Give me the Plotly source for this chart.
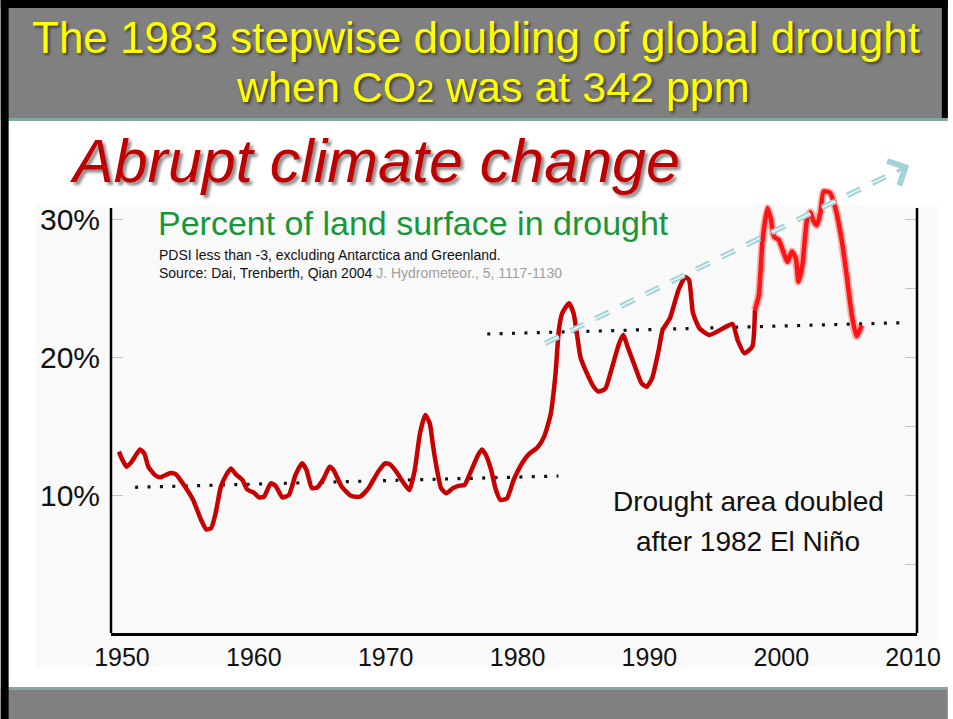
import plotly.graph_objects as go

# ---------------- data ----------------
dark_years = [1949.77, 1949.98, 1950.35, 1950.73, 1951.36, 1951.7, 1952.0, 1952.5, 1952.9, 1953.7,
              1954.1, 1954.75, 1955.4, 1956.0, 1956.4, 1956.76, 1957.1, 1957.5, 1957.9, 1958.27,
              1958.64, 1959.14, 1959.5, 1960.0, 1960.4, 1960.78, 1961.28, 1961.66, 1962.16, 1962.66,
              1963.16, 1963.66, 1964.0, 1964.4, 1964.8, 1965.3, 1965.75, 1966.05, 1966.67, 1967.4,
              1968.06, 1968.7, 1969.44, 1969.95, 1970.3, 1970.8, 1971.3, 1971.8, 1972.2, 1972.6,
              1973.0, 1973.34, 1973.6, 1973.85, 1974.2, 1974.6, 1975.1, 1975.6, 1975.97, 1976.5,
              1977.0, 1977.3, 1977.6, 1978.0, 1978.36, 1978.7, 1979.2, 1979.7, 1980.4, 1980.9,
              1981.5, 1982.0, 1982.5, 1982.88, 1983.13, 1983.38, 1983.9, 1984.25, 1984.5, 1984.77,
              1985.27, 1985.77, 1986.15, 1986.65, 1987.15, 1987.66, 1988.0, 1988.4, 1989.0, 1989.4,
              1989.8, 1990.2, 1990.7, 1991.0, 1991.55, 1991.9, 1992.2, 1992.7, 1993.0, 1993.3,
              1993.8, 1994.56, 1995.56, 1996.3, 1996.7, 1997.2, 1997.8, 1998.0]
dark_pct = [13.14, 12.66, 12.05, 12.4, 13.3, 13.0, 12.05, 11.45, 11.28, 11.6,
            11.5, 10.65, 9.64, 8.2, 7.51, 7.6, 8.67, 10.6, 11.45, 11.93,
            11.5, 11.09, 10.4, 10.17, 9.83, 9.88, 10.85, 10.65, 9.83, 10.0,
            11.45, 12.3, 11.8, 10.5, 10.55, 11.2, 12.05, 11.8, 10.6, 9.93,
            9.88, 10.5, 11.7, 12.3, 12.24, 11.7, 10.96, 10.36, 11.8, 14.47,
            15.8, 15.2, 13.5, 12.05, 10.5, 10.12, 10.5, 10.68, 10.72, 11.8,
            12.9, 13.3, 12.9, 11.8, 10.36, 9.64, 9.76, 11.09, 12.4, 13.0,
            13.45, 14.2, 15.8, 18.8, 21.96, 23.17, 23.9, 23.17, 21.7, 20.0,
            18.8, 17.85, 17.5, 17.7, 19.2, 20.87, 21.6, 20.6, 19.06, 18.1,
            17.85, 18.45, 20.5, 21.96, 22.8, 23.9, 24.85, 25.8, 25.6, 23.2,
            22.07, 21.6, 22.07, 22.4, 21.2, 20.27, 20.75, 23.4]

bright_years = [1998.0, 1998.3, 1998.57, 1998.95, 1999.2, 1999.46, 1999.8, 2000.2, 2000.46, 2000.8,
                2001.1, 2001.3, 2001.6, 2001.96, 2002.2, 2002.47, 2002.7, 2002.97, 2003.2, 2003.7,
                2004.1, 2004.6, 2004.96, 2005.35, 2005.7, 2006.1]
bright_pct = [23.4, 24.5, 28.36, 30.8, 30.05, 28.7, 28.5, 27.5, 26.9, 27.65,
              27.15, 25.46, 26.67, 30.05, 30.5, 29.8, 29.56, 30.5, 32.0, 31.9,
              30.8, 28.36, 25.9, 23.04, 21.5, 22.3]

lower_level_years = [1951.0, 1983.1]
lower_level_pct = [10.56, 11.38]
upper_level_years = [1977.7, 2009.6]
upper_level_pct = [21.67, 22.5]

trend_arrow_years = [1982.1, 2008.6]
trend_arrow_pct = [21.0, 33.4]
trend_arrow_head = (2009.7, 33.9)

x_ticks = [1950, 1960, 1970, 1980, 1990, 2000, 2010]
y_label_vals = [10, 20, 30]
y_label_text = ["10%", "20%", "30%"]
y_right_ticks = [5, 10, 15, 20, 25, 30]
frame_top_pct = 30.8

# ---------------- layout geometry ----------------
W, H = 953, 719
ML, MR, MT, MB = 111, 31, 157, 86
X_RANGE = [1949.17, 2010.29]
Y_RANGE = [0, 34.5]
PW, PH = W - ML - MR, H - MT - MB


def pxp(x):
    return (x - ML) / PW


def pyp(y):
    return (H - MB - y) / PH


SANS = "Liberation Sans, Arial, sans-serif"

fig = go.Figure()

# dotted level lines
for xs, ys in [(lower_level_years, lower_level_pct), (upper_level_years, upper_level_pct)]:
    fig.add_trace(go.Scatter(x=xs, y=ys, mode="lines",
                             line=dict(color="#111111", width=3.2, dash="3px,9.4px"),
                             hoverinfo="skip", showlegend=False))

# red drought curve
fig.add_trace(go.Scatter(x=dark_years, y=dark_pct, mode="lines",
                         line=dict(color="#c80000", width=4.5, shape="spline", smoothing=0.5),
                         hoverinfo="skip", showlegend=False))
fig.add_trace(go.Scatter(x=bright_years, y=bright_pct, mode="lines",
                         line=dict(color="rgba(255,40,40,0.35)", width=8, shape="spline", smoothing=0.5),
                         hoverinfo="skip", showlegend=False))
fig.add_trace(go.Scatter(x=bright_years, y=bright_pct, mode="lines",
                         line=dict(color="#ff1414", width=4.5, shape="spline", smoothing=0.5),
                         hoverinfo="skip", showlegend=False))

# dashed trend arrow
fig.add_trace(go.Scatter(x=trend_arrow_years, y=trend_arrow_pct, mode="lines",
                         line=dict(color="#a3d2db", width=5.5, dash="15px,13px"),
                         hoverinfo="skip", showlegend=False))
fig.add_trace(go.Scatter(x=trend_arrow_years, y=trend_arrow_pct, mode="lines",
                         line=dict(color="#f4fbfc", width=1.4, dash="15px,13px"),
                         hoverinfo="skip", showlegend=False))

# invisible trace for right axis
fig.add_trace(go.Scatter(x=upper_level_years, y=upper_level_pct, yaxis="y2", mode="lines",
                         line=dict(color="rgba(0,0,0,0)", width=0), hoverinfo="skip", showlegend=False))

shapes = [
    # chart image background
    dict(type="rect", xref="paper", yref="paper", x0=pxp(35), x1=pxp(942), y0=pyp(667), y1=pyp(205),
         fillcolor="#f9f9f9", line=dict(width=0), layer="below"),
    # header band
    dict(type="rect", xref="paper", yref="paper", x0=pxp(0), x1=pxp(W), y0=pyp(118), y1=pyp(8),
         fillcolor="#808080", line=dict(width=0), layer="below"),
    dict(type="rect", xref="paper", yref="paper", x0=pxp(0), x1=pxp(W), y0=pyp(121), y1=pyp(118),
         fillcolor="#86a6a6", line=dict(width=0), layer="below"),
    # top black edge and right edge of header
    dict(type="rect", xref="paper", yref="paper", x0=pxp(0), x1=pxp(W), y0=pyp(8), y1=pyp(0),
         fillcolor="#000000", line=dict(width=0), layer="below"),
    dict(type="rect", xref="paper", yref="paper", x0=pxp(947), x1=pxp(W), y0=pyp(118), y1=pyp(0),
         fillcolor="#000000", line=dict(width=0), layer="below"),
    # footer band
    dict(type="rect", xref="paper", yref="paper", x0=pxp(0), x1=pxp(W), y0=pyp(690), y1=pyp(687),
         fillcolor="#86a6a6", line=dict(width=0), layer="below"),
    dict(type="rect", xref="paper", yref="paper", x0=pxp(0), x1=pxp(W), y0=pyp(H), y1=pyp(690),
         fillcolor="#808080", line=dict(width=0), layer="below"),
    # left black edge
    dict(type="rect", xref="paper", yref="paper", x0=pxp(0), x1=pxp(8), y0=pyp(H), y1=pyp(0),
         fillcolor="#000000", line=dict(width=0), layer="above"),
    # left and right frame lines
    dict(type="line", xref="paper", yref="paper", x0=0, x1=0, y0=0, y1=frame_top_pct / Y_RANGE[1],
         line=dict(color="#000000", width=2.5)),
    dict(type="line", xref="paper", yref="paper", x0=1, x1=1, y0=0, y1=frame_top_pct / Y_RANGE[1],
         line=dict(color="#000000", width=2.5)),
]

ann = []


def text(x, y, t, size, color, family=SANS, **kw):
    ann.append(dict(xref="paper", yref="paper", x=pxp(x), y=pyp(y), text=t, showarrow=False,
                    xanchor=kw.pop("xanchor", "center"), yanchor="middle",
                    font=dict(size=size, color=color, family=family, **kw)))


text(478, 37, "The 1983 stepwise doubling of global drought", 44, "#ffff00",
     shadow="2px 2px 3px rgba(0,0,0,0.55)")
text(495, 87, "when CO<span style='font-size:32px'>2</span> was at 342 ppm", 43, "#ffff00",
     shadow="2px 2px 3px rgba(0,0,0,0.55)")
text(376, 161, "Abrupt climate change", 61, "#c00000", style="italic",
     shadow="3px 3px 3px rgba(0,0,0,0.45)")
text(156, 223, "Percent of land surface in drought", 34, "#17963a", xanchor="left")
text(157, 255, "PDSI less than -3, excluding Antarctica and Greenland.", 14, "#111111", xanchor="left")
text(157, 273, "Source: Dai, Trenberth, Qian 2004 <span style='color:#a0a0a0'>J. Hydrometeor., 5, 1117-1130</span>",
     14, "#111111", xanchor="left")
text(752, 501, "Drought area doubled", 28, "#111111")
text(752, 541, "after 1982 El Niño", 28, "#111111")

ann.append(dict(x=trend_arrow_head[0], y=trend_arrow_head[1], xref="x", yref="y", text="",
                showarrow=True, arrowhead=4, arrowsize=1.5, arrowwidth=3.5, arrowcolor="#a3d2db",
                ax=-14, ay=7))

fig.update_layout(
    width=W, height=H,
    margin=dict(l=ML, r=MR, t=MT, b=MB, pad=0),
    paper_bgcolor="#ffffff", plot_bgcolor="rgba(0,0,0,0)",
    showlegend=False,
    shapes=shapes, annotations=ann,
    xaxis=dict(range=X_RANGE, tickvals=x_ticks, ticks="", showgrid=False, zeroline=False,
               showline=True, linecolor="#000000", linewidth=2.5, mirror=False,
               tickfont=dict(family=SANS, size=25, color="#111111"), ticklabelstandoff=0),
    yaxis=dict(range=Y_RANGE, tickvals=y_label_vals, ticktext=y_label_text, ticks="inside",
               ticklen=12, tickcolor="#c4c4c4", tickwidth=1, showgrid=False, zeroline=False,
               showline=False, tickfont=dict(family=SANS, size=30, color="#111111"),
               ticklabelstandoff=10),
    yaxis2=dict(range=Y_RANGE, overlaying="y", side="right", tickvals=y_right_ticks, ticks="inside",
                ticklen=12, tickcolor="#c4c4c4", tickwidth=1, showticklabels=False, showgrid=False,
                zeroline=False, showline=False),
)

fig.write_html("out.html", config={"displayModeBar": False},
               post_script="document.body.style.margin='0';document.body.style.overflow='hidden';")
